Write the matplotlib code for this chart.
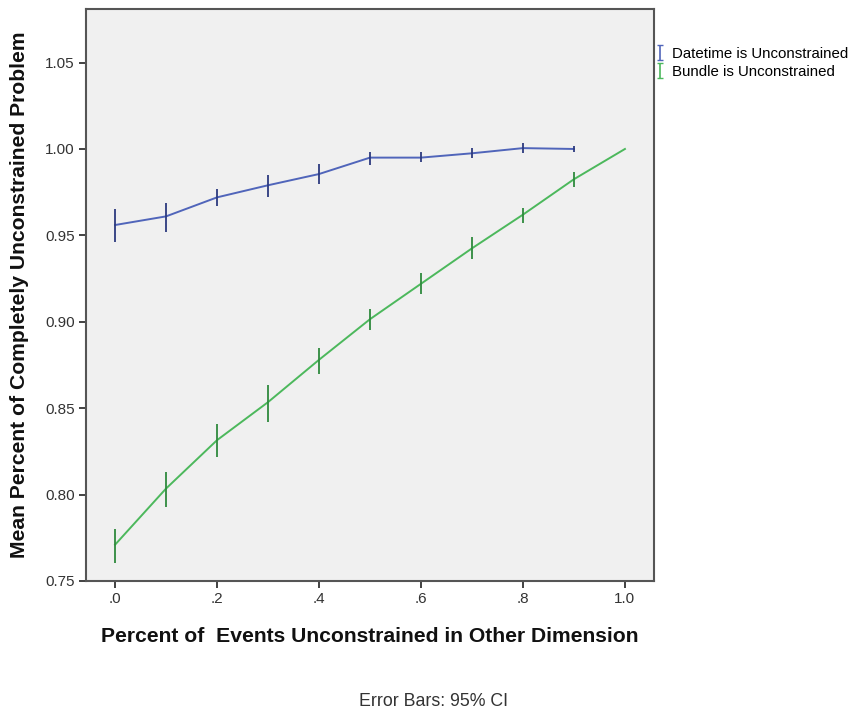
import numpy as np
import matplotlib.pyplot as plt

plt.rcParams['font.family'] = ['Liberation Sans', 'DejaVu Sans']

# data
pct = [0.0, 0.1, 0.2, 0.3, 0.4, 0.5, 0.6, 0.7, 0.8, 0.9, 1.0]

dt_mean = [0.956, 0.961, 0.972, 0.979, 0.9855, 0.995, 0.995, 0.9975, 1.0005, 1.0]
dt_low = [0.946, 0.952, 0.967, 0.972, 0.980, 0.991, 0.9925, 0.9945, 0.9975, 0.998]
dt_high = [0.965, 0.969, 0.977, 0.985, 0.9915, 0.998, 0.9985, 1.0005, 1.0035, 1.002]

bu_mean = [0.771, 0.8035, 0.8315, 0.8535, 0.878, 0.9015, 0.922, 0.9425, 0.962, 0.9825, 1.0]
bu_low = [0.7605, 0.793, 0.822, 0.842, 0.870, 0.895, 0.916, 0.9365, 0.957, 0.9778, 1.0]
bu_high = [0.780, 0.813, 0.841, 0.8635, 0.885, 0.9075, 0.928, 0.949, 0.966, 0.9865, 1.0]

xticks = [0.0, 0.2, 0.4, 0.6, 0.8, 1.0]
xtick_labels = ['.0', '.2', '.4', '.6', '.8', '1.0']
yticks = [0.75, 0.80, 0.85, 0.90, 0.95, 1.00, 1.05]
ytick_labels = ['0.75', '0.80', '0.85', '0.90', '0.95', '1.00', '1.05']

blue, blue_err = '#5065ba', '#2c3a7e'
green, green_err = '#4cb85c', '#2f8a3d'

fig = plt.figure(figsize=(8.55, 7.14), dpi=100)
ax = fig.add_axes([86/855, 1-581/714, (654-86)/855, (581-9)/714])
ax.set_facecolor('#f0f0f0')

n = len(dt_mean)
ax.plot(pct[:n], dt_mean, color=blue, lw=1.4, zorder=3)
ax.vlines(pct[:n], dt_low, dt_high, color=blue_err, lw=1.3, zorder=4)
ax.plot(pct, bu_mean, color=green, lw=1.4, zorder=3)
ax.vlines(pct, bu_low, bu_high, color=green_err, lw=1.3, zorder=4)

# legend handles, error-bar style
h1 = ax.errorbar([np.nan], [np.nan], yerr=[0.01], fmt='none', ecolor=blue, capsize=2.2, elinewidth=1.2)
h2 = ax.errorbar([np.nan], [np.nan], yerr=[0.01], fmt='none', ecolor=green, capsize=2.2, elinewidth=1.2)
fig.legend([h1, h2], ['Datetime is Unconstrained', 'Bundle is Unconstrained'],
           loc='upper left', bbox_to_anchor=(654/855, 1-47/714), frameon=False,
           fontsize=10.8, handlelength=0.8, handletextpad=0.4,
           labelspacing=0.25, borderaxespad=0, borderpad=0)

ax.set_xlim(-0.057, 1.057)
ax.set_ylim(0.75, 1.081)
ax.set_xticks(xticks)
ax.set_xticklabels(xtick_labels)
ax.set_yticks(yticks)
ax.set_yticklabels(ytick_labels)
ax.tick_params(direction='out', length=5, width=1.3, colors='#333333',
               labelsize=11, pad=3)

for s in ax.spines.values():
    s.set_color('#555555')
    s.set_linewidth(1.5)

fig.text(370/855, 1-636/714, 'Percent of  Events Unconstrained in Other Dimension',
         ha='center', va='center', fontsize=15.2, fontweight='bold', color='#111111')
fig.text(20/855, 1-295/714, 'Mean Percent of Completely Unconstrained Problem',
         ha='center', va='center', rotation=90, fontsize=15.2, fontweight='bold', color='#111111')
fig.text(433/855, 1-702/714, 'Error Bars: 95% CI', ha='center', va='center',
         fontsize=12.8, color='#333333')

fig.savefig('out.png', dpi=100, facecolor='white')
